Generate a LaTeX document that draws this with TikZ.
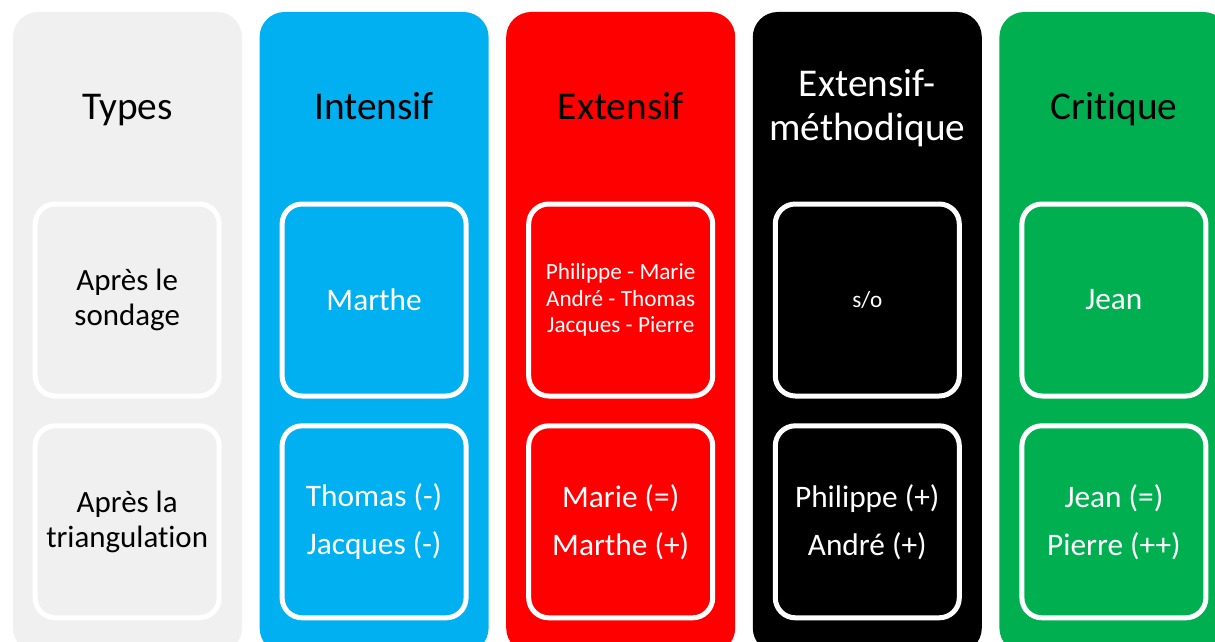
\documentclass[tikz,border=0pt]{standalone}
\usepackage{fontspec}
\setmainfont{Carlito}[Ligatures={NoCommon}]
\definecolor{cgrey}{HTML}{F0F0F0}
\definecolor{cblue}{HTML}{00B0F0}
\definecolor{cred}{HTML}{FF0000}
\definecolor{cblack}{HTML}{000000}
\definecolor{cgreen}{HTML}{00B050}
\tikzset{
  colbox/.style={rounded corners=18.75pt},
  title/.style={align=center, inner sep=0pt, font=\fontsize{29.5}{33}\selectfont},
  cell/.style={draw=white, line width=3.75pt, rounded corners=15pt,
    minimum width=138pt, minimum height=144pt, align=center, inner sep=0pt,
    font=\fontsize{23.5}{36}\selectfont},
  small/.style={font=\fontsize{17.4}{20}\selectfont},
  label/.style={font=\fontsize{23.2}{26}\selectfont}
}
\begin{document}
\begin{tikzpicture}[x=0.75pt,y=-0.75pt]
\useasboundingbox (0,0) rectangle (1215,642);
\begin{scope}
\clip (0,0) rectangle (1215,642);
% columns
\path[colbox, fill=cgrey]  (13,12)    rectangle (242,653);
\path[colbox, fill=cblue]  (259.6,12) rectangle (488.6,653);
\path[colbox, fill=cred]   (506.2,12) rectangle (735.2,653);
\path[colbox, fill=cblack] (752.8,12) rectangle (981.8,653);
\path[colbox, fill=cgreen] (999.4,12) rectangle (1228.4,653);
% titles
\node[title, text=black, anchor=base] (t1) at (127.5,119) {Types};
\node[title, text=black, anchor=base] (t2) at (374.1,119) {Intensif};
\node[title, text=black, anchor=base] (t3) at (620.7,119) {Extensif};
\node[title, text=white] (t4) at (867.3,108) {Extensif-\\méthodique};
\node[title, text=black, anchor=base] (t5) at (1113.9,119) {Critique};
% row 1
\node[cell, fill=cgrey, text=black, label] (a1) at (127.2,300) {Après le\\sondage};
\node[cell, fill=cblue, text=white] (b1) at (374.1,300) {Marthe};
\node[cell, fill=cred, text=white, small] (c1) at (620.7,300) {Philippe - Marie\\André - Thomas\\Jacques - Pierre};
\node[cell, fill=cblack, text=white, small] (d1) at (867.3,300) {s/o};
\node[cell, fill=cgreen, text=white] (e1) at (1113.9,300) {Jean};
% row 2
\node[cell, fill=cgrey, text=black, label] (a2) at (127.2,521.8) {Après la\\triangulation};
\node[cell, fill=cblue, text=white] (b2) at (374.1,521.8) {Thomas (-)\\Jacques (-)};
\node[cell, fill=cred, text=white] (c2) at (620.7,521.8) {Marie (=)\\Marthe (+)};
\node[cell, fill=cblack, text=white] (d2) at (867.3,521.8) {Philippe (+)\\André (+)};
\node[cell, fill=cgreen, text=white] (e2) at (1113.9,521.8) {Jean (=)\\Pierre (++)};
\end{scope}
\end{tikzpicture}
\end{document}
